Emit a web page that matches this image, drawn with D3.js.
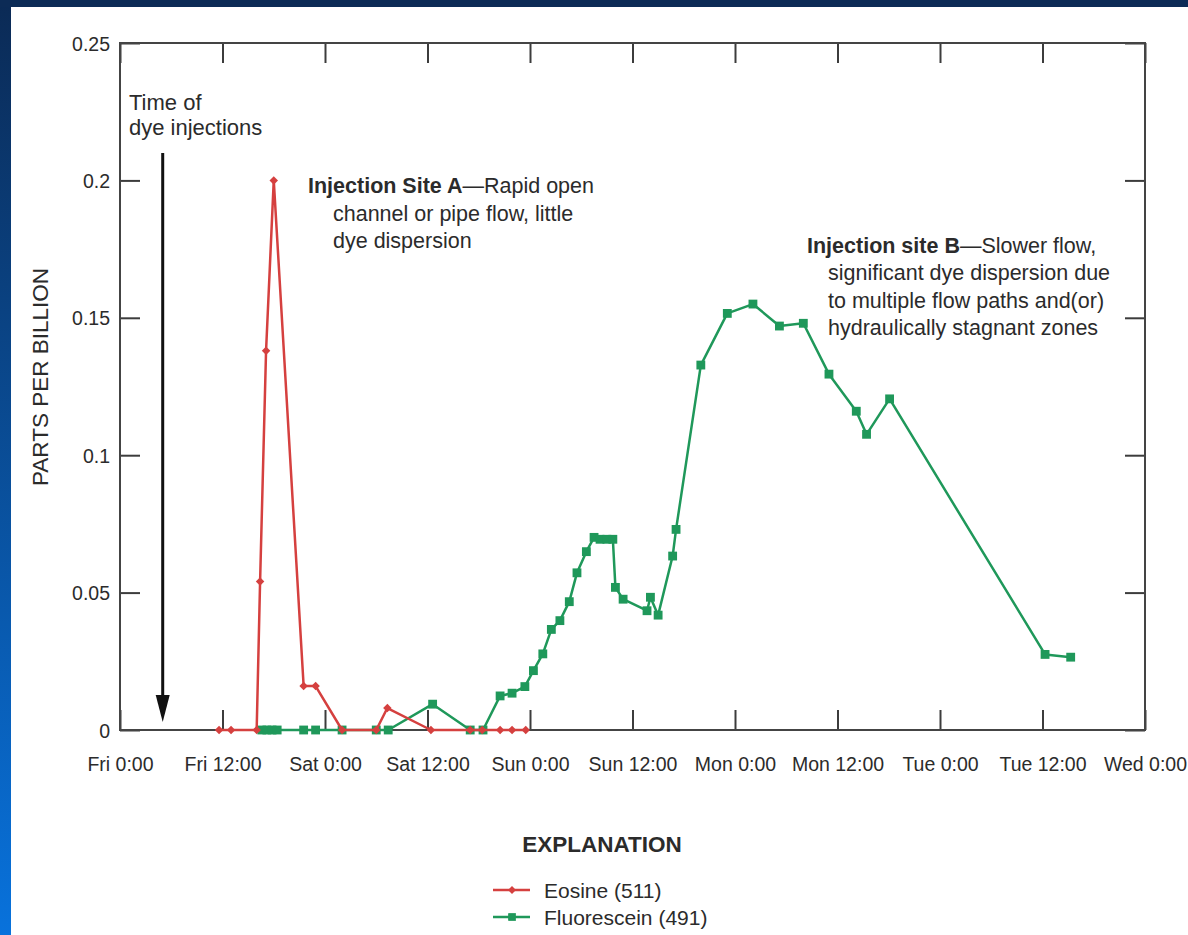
<!DOCTYPE html>
<html>
<head>
<meta charset="utf-8">
<script src="https://cdn.jsdelivr.net/npm/d3@7/dist/d3.min.js"></script>
<style>
  body { margin: 0; background: #fff; overflow: hidden; }
  text { font-family: "Liberation Sans", Arial, sans-serif; fill: #2b2b2b; }
</style>
</head>
<body>
<div id="chart"></div>
<script>
'use strict';

// x axis: hours since Fri 0:00, one tick every 12 hours
const tickHours = [0, 12, 24, 36, 48, 60, 72, 84, 96, 108, 120];
const tickLabels = ["Fri 0:00", "Fri 12:00", "Sat 0:00", "Sat 12:00", "Sun 0:00", "Sun 12:00",
                    "Mon 0:00", "Mon 12:00", "Tue 0:00", "Tue 12:00", "Wed 0:00"];

// y axis: parts per billion
const ppbTicks = [0, 0.05, 0.1, 0.15, 0.2, 0.25];
const ppbTickLabels = ["0", "0.05", "0.1", "0.15", "0.2", "0.25"];

// Eosine (511) - injection site A
const eosineHours = [11.6, 13.0, 16.0, 16.4, 17.1, 18.0, 21.5, 22.9, 26.0, 30.0, 31.3, 36.4,
                     41.0, 42.4, 44.5, 45.9, 47.5];
const eosinePpb   = [0, 0, 0, 0.054, 0.138, 0.2, 0.016, 0.016, 0, 0, 0.008, 0,
                     0, 0, 0, 0, 0];

// Fluorescein (491) - injection site B
const fluoresceinHours = [16.6, 17.2, 17.8, 18.4, 21.5, 22.9, 26.0, 30.0, 31.4, 36.6, 41.0, 42.5,
                          44.5, 45.9, 47.4, 48.4, 49.5, 50.5, 51.5, 52.6, 53.5, 54.6, 55.5, 56.2,
                          57.0, 57.7, 58.0, 58.9, 61.7, 62.1, 63.0, 64.7, 65.1, 68.0, 71.1, 74.1,
                          77.2, 80.0, 83.0, 86.2, 87.4, 90.1, 108.3, 111.3];
const fluoresceinPpb   = [0, 0, 0, 0, 0, 0, 0, 0, 0, 0.0094, 0, 0,
                          0.0124, 0.0134, 0.0158, 0.0216, 0.0277, 0.0366, 0.0398, 0.0467, 0.0572, 0.0649, 0.0701, 0.0694,
                          0.0694, 0.0694, 0.0519, 0.0476, 0.0434, 0.0483, 0.0418, 0.0633, 0.073, 0.1328, 0.1516, 0.155,
                          0.147, 0.148, 0.1295, 0.116, 0.1076, 0.1205, 0.0275, 0.0265];

const seriesNames = ["Eosine (511)", "Fluorescein (491)"];
const seriesColors = ["#d5403f", "#1f985a"];

class DyeTraceChart{
  constructor(p){
    this._width = p.width;
    this._height = p.height;
    this._plot = p.plot;
  }

  init(parent){
    this._svg = d3.select(parent).append("svg")
      .attr("width", this._width)
      .attr("height", this._height);

    this._x = d3.scaleLinear().domain([0, 120]).range([this._plot.left, this._plot.right]);
    this._y = d3.scaleLinear().domain([0, 0.25]).range([this._plot.bottom, this._plot.top]);

    this.drawSlideBorder();
    this.drawAxes();
    this.drawSeries(fluoresceinHours, fluoresceinPpb, seriesColors[1], d3.symbol(d3.symbolSquare, 78));
    this.drawSeries(eosineHours, eosinePpb, seriesColors[0], d3.symbol(d3.symbolDiamond2, 46));
    this.drawAnnotations();
    this.drawLegend();
  }

  //blue slide frame on the top and left edges
  drawSlideBorder(){
    let grad = this._svg.append("defs").append("linearGradient")
      .attr("id", "edgeGrad").attr("x1", 0).attr("y1", 0).attr("x2", 0).attr("y2", 1);
    grad.append("stop").attr("offset", "0%").attr("stop-color", "#0b2a55");
    grad.append("stop").attr("offset", "100%").attr("stop-color", "#0872dc");

    this._svg.append("rect").attr("x", 0).attr("y", 0)
      .attr("width", 11).attr("height", this._height).attr("fill", "url(#edgeGrad)");
    this._svg.append("rect").attr("x", 0).attr("y", 0)
      .attr("width", this._width).attr("height", 7).attr("fill", "#0c2b56");
  }

  drawAxes(){
    let x = this._x, y = this._y, p = this._plot;
    let tickLen = -20;

    this._svg.append("g").attr("class", "axis")
      .attr("transform", `translate(0,${p.bottom})`)
      .call(d3.axisBottom(x).tickValues(tickHours).tickSize(tickLen).tickSizeOuter(0).tickPadding(27)
        .tickFormat((d, i) => tickLabels[i]));

    this._svg.append("g").attr("class", "axis")
      .attr("transform", `translate(0,${p.top})`)
      .call(d3.axisTop(x).tickValues(tickHours).tickSize(tickLen).tickSizeOuter(0).tickFormat(""));

    let left = this._svg.append("g").attr("class", "axis")
      .attr("transform", `translate(${p.left},0)`)
      .call(d3.axisLeft(y).tickValues(ppbTicks).tickSize(tickLen).tickSizeOuter(0).tickPadding(10)
        .tickFormat((d, i) => ppbTickLabels[i]));

    this._svg.append("g").attr("class", "axis")
      .attr("transform", `translate(${p.right},0)`)
      .call(d3.axisRight(y).tickValues(ppbTicks).tickSize(tickLen).tickSizeOuter(0).tickFormat(""));

    this._svg.selectAll(".axis .domain").remove();
    this._svg.selectAll(".axis line").attr("stroke", "#3c3c3c").attr("stroke-width", 2);
    this._svg.selectAll(".axis text").attr("font-family", null).attr("font-size", 19.5).attr("fill", "#2b2b2b");
    left.selectAll("text").attr("dy", "0.36em");

    //plot frame
    this._svg.append("rect")
      .attr("x", p.left).attr("y", p.top)
      .attr("width", p.right - p.left).attr("height", p.bottom - p.top)
      .attr("fill", "none").attr("stroke", "#444").attr("stroke-width", 2);

    //y axis title
    this._svg.append("text")
      .attr("transform", "translate(48,377) rotate(-90)")
      .attr("text-anchor", "middle")
      .attr("font-size", 22.5)
      .text("PARTS PER BILLION");
  }

  drawSeries(hours, values, color, sym){
    let x = this._x, y = this._y;
    let pts = hours.map((h, i) => ({h: h, v: values[i]}));

    let line = d3.line().x(d => x(d.h)).y(d => y(d.v));
    let g = this._svg.append("g").attr("class", "series");

    g.append("path").datum(pts)
      .attr("d", line)
      .attr("fill", "none")
      .attr("stroke", color)
      .attr("stroke-width", 2.5)
      .attr("stroke-linejoin", "round");

    g.selectAll("path.marker").data(pts).join("path")
      .attr("class", "marker")
      .attr("transform", d => `translate(${x(d.h)},${y(d.v)})`)
      .attr("d", sym)
      .attr("fill", color);
  }

  addLines(lines){
    let t = this._svg.append("text");
    lines.forEach(l => {
      let ts = t.append("tspan").attr("x", l.x).attr("y", l.y);
      l.parts.forEach(part => {
        ts.append("tspan").attr("font-weight", part.bold ? "bold" : null).text(part.text);
      });
    });
    return t;
  }

  drawAnnotations(){
    //injection time marker
    this.addLines([{x: 129, y: 110, parts: [{text: "Time of"}]}]).attr("font-size", 22);
    this.addLines([{x: 129, y: 135, parts: [{text: "dye injections"}]}]).attr("font-size", 22);

    let ax = this._x(5);
    this._svg.append("line")
      .attr("x1", ax).attr("x2", ax).attr("y1", 153).attr("y2", 700)
      .attr("stroke", "#111").attr("stroke-width", 3);
    this._svg.append("path")
      .attr("d", `M${ax - 7},695 L${ax + 7},695 L${ax},722 Z`)
      .attr("fill", "#111");

    this.addLines([
      {x: 308, y: 193, parts: [{text: "Injection Site A", bold: true}, {text: "\u2014Rapid open"}]},
      {x: 333, y: 221, parts: [{text: "channel or pipe flow, little"}]},
      {x: 333, y: 248, parts: [{text: "dye dispersion"}]}
    ]).attr("font-size", 21.5);

    this.addLines([
      {x: 807, y: 253, parts: [{text: "Injection site B", bold: true}, {text: "\u2014Slower flow,"}]},
      {x: 828, y: 280, parts: [{text: "significant dye dispersion due"}]},
      {x: 828, y: 308, parts: [{text: "to multiple flow paths and(or)"}]},
      {x: 828, y: 335, parts: [{text: "hydraulically stagnant zones"}]}
    ]).attr("font-size", 21.5);
  }

  drawLegend(){
    this._svg.append("text")
      .attr("x", 602).attr("y", 852)
      .attr("text-anchor", "middle")
      .attr("font-size", 22.5).attr("font-weight", "bold")
      .text("EXPLANATION");

    let rows = [890, 917];
    let shapes = [d3.symbol(d3.symbolDiamond2, 40), d3.symbol(d3.symbolSquare, 60)];
    let g = this._svg.append("g").attr("class", "legend");
    seriesNames.forEach((name, i) => {
      g.append("line")
        .attr("x1", 493).attr("x2", 530).attr("y1", rows[i]).attr("y2", rows[i])
        .attr("stroke", seriesColors[i]).attr("stroke-width", 2.5);
      g.append("path")
        .attr("transform", `translate(512,${rows[i]})`)
        .attr("d", shapes[i]).attr("fill", seriesColors[i]);
      g.append("text")
        .attr("x", 544).attr("y", rows[i] + 8)
        .attr("font-size", 21)
        .text(name);
    });
  }
}

let chart = new DyeTraceChart({
  width: 1188,
  height: 935,
  plot: {left: 120, right: 1145, top: 43, bottom: 730}
});
chart.init("#chart");
</script>
</body>
</html>
